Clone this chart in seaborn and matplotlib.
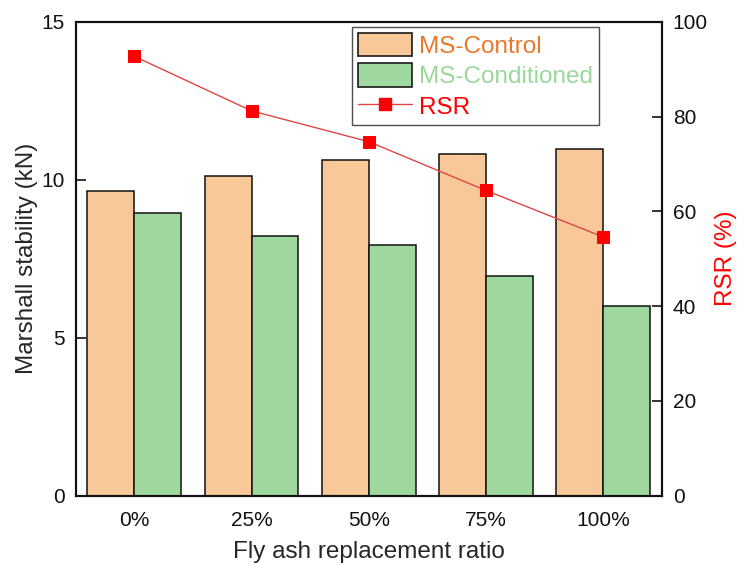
import matplotlib
matplotlib.use("Agg")
import matplotlib.pyplot as plt
import numpy as np
import pandas as pd
import seaborn as sns
from matplotlib.lines import Line2D
from matplotlib.patches import Patch

# Data
ratios = ["0%", "25%", "50%", "75%", "100%"]
ms_control = [9.65, 10.11, 10.63, 10.80, 10.98]
ms_conditioned = [8.95, 8.21, 7.94, 6.96, 6.00]
rsr = [92.7, 81.2, 74.7, 64.4, 54.6]

series_names = ["MS-Control", "MS-Conditioned"]
fill_colors = ["#F9C898", "#9FD89E"]
text_colors = ["#E8782A", "#9AD89A"]
rsr_color = "#FF0000"
rsr_line_color = "#E04545"

sns.set_theme(style="white")
plt.rcParams["font.family"] = ["Liberation Sans", "DejaVu Sans"]

df = pd.DataFrame({
    "ratio": ratios * 2,
    "stability": ms_control + ms_conditioned,
    "series": [series_names[0]] * len(ratios) + [series_names[1]] * len(ratios),
})

fig = plt.figure(figsize=(7.38, 5.65), dpi=100)
ax = fig.add_axes([0.1026, 0.1227, 0.7940, 0.8388])

sns.barplot(data=df, x="ratio", y="stability", hue="series", order=ratios,
            hue_order=series_names, palette=fill_colors, saturation=1,
            width=0.8, edgecolor="#111111", linewidth=1.1, ax=ax, legend=False)

ax.set_xlim(-0.5, 4.5)
ax.set_ylim(0, 15)
ax.set_yticks([0, 5, 10, 15])
ax.set_xlabel("Fly ash replacement ratio", fontsize=17.5, labelpad=8)
ax.set_ylabel("Marshall stability (kN)", fontsize=17.5, labelpad=2)
ax.tick_params(axis="both", direction="in", length=7, width=1.2,
               labelsize=15, colors="#111111", pad=8)
ax.tick_params(axis="x", top=False, bottom=True, pad=11)
ax.tick_params(axis="y", left=True)
for sp in ax.spines.values():
    sp.set_linewidth(1.5)
    sp.set_color("#111111")

ax2 = ax.twinx()
positions = np.arange(len(ratios))
sns.lineplot(x=positions, y=rsr, ax=ax2, color=rsr_line_color, linewidth=1.0,
             marker="s", markersize=9, markerfacecolor=rsr_color,
             markeredgecolor=rsr_color, legend=False)
ax2.set_ylim(0, 100)
ax2.set_yticks([0, 20, 40, 60, 80, 100])
ax2.set_ylabel("RSR (%)", fontsize=17.5, color="#FF0000", labelpad=5)
ax2.tick_params(axis="y", direction="in", length=7, width=1.2,
                labelsize=15, colors="#111111", pad=8, right=True)
for sp in ax2.spines.values():
    sp.set_linewidth(1.5)
    sp.set_color("#111111")

handles = [
    Patch(facecolor=fill_colors[0], edgecolor="#1a1a1a", linewidth=1.2),
    Patch(facecolor=fill_colors[1], edgecolor="#1a1a1a", linewidth=1.2),
    Line2D([0], [0], color=rsr_line_color, linewidth=1.0, marker="s",
           markersize=9, markerfacecolor=rsr_color, markeredgecolor=rsr_color),
]
leg = ax2.legend(handles, series_names + ["RSR"], loc="upper left",
                 bbox_to_anchor=(352 / 738, 1 - 27 / 565),
                 bbox_transform=fig.transFigure, fontsize=17.5,
                 frameon=True, fancybox=False, handlelength=2.2,
                 handleheight=1.1, labelspacing=0.22, borderpad=0.25,
                 handletextpad=0.3, borderaxespad=0)
leg.get_frame().set_edgecolor("#222222")
leg.get_frame().set_linewidth(1.0)
for txt, c in zip(leg.get_texts(), text_colors + [rsr_color]):
    txt.set_color(c)

fig.savefig("out.png", dpi=100)
